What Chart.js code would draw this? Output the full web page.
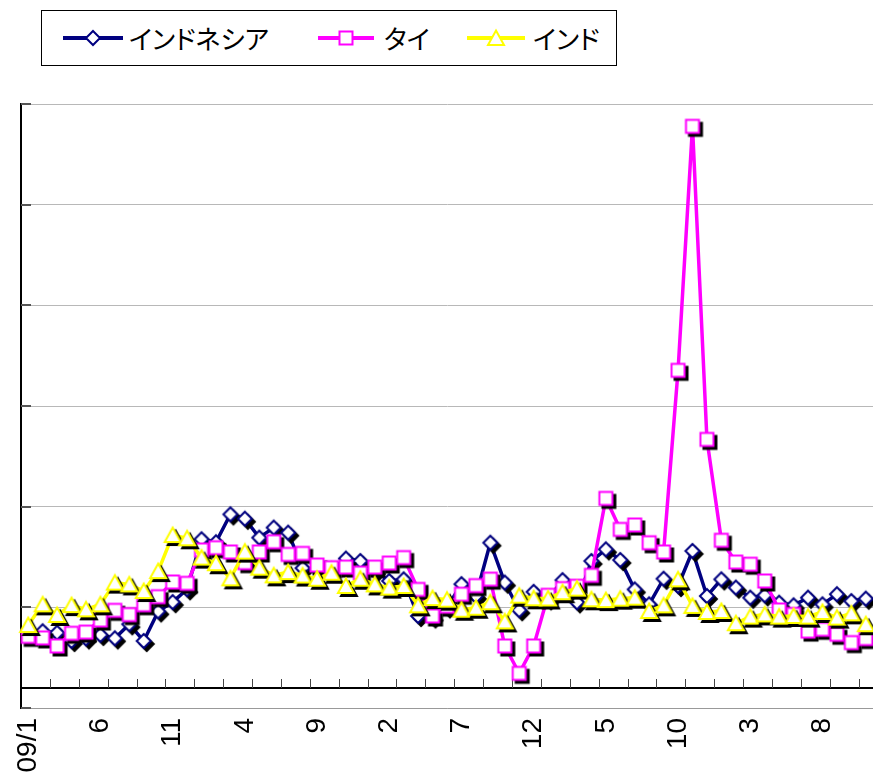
<!DOCTYPE html>
<html>
<head>
<meta charset="utf-8">
<script src="https://cdn.jsdelivr.net/npm/chart.js@4/dist/chart.umd.min.js"></script>
<style>
html,body{margin:0;padding:0;background:#fff;overflow:hidden;}
#wrap{position:relative;width:873px;height:784px;}
#c{position:absolute;left:0;top:0;}
#legend{position:absolute;left:41px;top:10px;width:574px;height:54px;border:1px solid #000;background:#fff;box-sizing:content-box;}
.lg-icon{position:absolute;}
.lg-text{position:absolute;top:14px;font-family:"Noto Sans CJK JP","Noto Sans",sans-serif;font-size:26px;line-height:26px;font-feature-settings:"palt";color:#000;white-space:nowrap;}
</style>
</head>
<body>
<div id="wrap">
<canvas id="c" width="873" height="784"></canvas>
<div id="legend"></div>
</div>
<script>
// ---- data ----
const years = ['09','10','11','12','13'];
const months = [];
for (let i = 0; i < 59; i++) {
  const m = (i % 12) + 1;
  months.push(m === 1 ? years[Math.floor(i / 12)] + '/' + m : String(m));
}
const seriesNames = ['インドネシア', 'タイ', 'インド'];
const indonesia = [-12.4,-11.9,-12.6,-16.7,-15.4,-13.7,-15.4,-8.4,-16.7,-2.0,
  2.6,9.0,33.8,32.3,46.2,44.0,34.6,39.6,37.1,19.5,
  19.0,19.0,24.2,23.0,18.0,13.1,13.9,-4.3,-5.0,0.0,
  11.5,5.6,32.1,12.3,-1.4,7.7,4.0,13.5,2.5,23.0,
  28.8,23.5,8.9,1.5,14.2,10.6,28.0,5.6,13.9,9.8,
  4.8,6.0,2.3,1.0,4.8,1.5,6.5,3.1,4.3];
const thai = [-14.4,-15.2,-19.2,-12.9,-12.3,-6.3,-1.5,-3.6,1.3,5.3,
  12.6,11.9,28.5,29.6,27.5,22.2,27.5,32.6,26.3,26.8,
  21.0,19.7,20.0,17.0,20.0,22.0,24.7,8.9,-4.3,0.6,
  6.5,10.8,14.0,-19.2,-32.8,-19.2,6.0,9.3,10.5,15.9,
  54.1,38.7,40.9,32.1,27.5,117.7,238.9,83.4,33.3,22.5,
  21.4,13.1,-1.3,-3.5,-11.8,-10.9,-13.4,-17.5,-15.5];
const india = [-8.8,1.5,-3.8,1.1,-1.0,1.5,12.3,11.4,8.1,18.0,
  35.9,34.3,24.7,21.9,14.4,27.7,19.7,15.9,17.5,15.8,
  14.2,17.2,10.6,14.2,11.4,9.8,10.6,1.0,4.6,3.8,
  -1.2,-0.2,2.5,-7.0,5.8,4.5,4.4,7.5,9.3,4.0,
  3.6,4.3,4.8,-1.8,1.0,13.9,0.7,-2.3,-1.8,-7.9,
  -4.6,-3.5,-4.6,-4.3,-4.6,-2.3,-5.1,-3.0,-8.4];
const yMin = -50, yMax = 250, yStep = 50;
const axisCross = -40;
const labelEvery = 5;
const tickEvery = 2;

// ---- styles ----
const colors = ['#000080', '#FF00FF', '#FFFF00'];
const shapes = ['diamond', 'square', 'triangle'];

function shapePath(ctx, shape, cx, cy) {
  ctx.beginPath();
  if (shape === 'diamond') {
    const r = 7;
    ctx.moveTo(cx, cy - r); ctx.lineTo(cx + r, cy); ctx.lineTo(cx, cy + r); ctx.lineTo(cx - r, cy);
  } else if (shape === 'square') {
    ctx.rect(cx - 6.5, cy - 6.5, 13, 13);
  } else {
    ctx.moveTo(cx, cy - 7.5); ctx.lineTo(cx + 8, cy + 7); ctx.lineTo(cx - 8, cy + 7);
  }
  ctx.closePath();
}
function makeMarker(shape, color, shadow) {
  const cv = document.createElement('canvas');
  cv.width = 30; cv.height = 30;
  const ctx = cv.getContext('2d');
  ctx.lineJoin = 'miter';
  if (shadow) {
    shapePath(ctx, shape, 18, 18);
    ctx.fillStyle = '#000'; ctx.strokeStyle = '#000'; ctx.lineWidth = 2;
    ctx.fill(); ctx.stroke();
  }
  shapePath(ctx, shape, 15, 15);
  ctx.fillStyle = '#fff'; ctx.fill();
  ctx.strokeStyle = color; ctx.lineWidth = 2; ctx.stroke();
  return cv;
}

const seriesData = [indonesia, thai, india];
const datasets = seriesData.map((d, i) => ({
  label: seriesNames[i],
  data: d,
  borderColor: colors[i],
  backgroundColor: '#fff',
  borderWidth: 3.5,
  pointStyle: makeMarker(shapes[i], colors[i], true),
  pointRadius: 7,
  pointHoverRadius: 7,
  tension: 0,
  order: 3 - i,
  clip: false
}));

const axisPlugin = {
  id: 'axisLines',
  beforeDatasetsDraw(chart) {
    const {ctx, chartArea: a, scales: {x, y}} = chart;
    const yAx = Math.round(y.getPixelForValue(axisCross));
    const w = x.getPixelForValue(1) - x.getPixelForValue(0);
    ctx.save();
    ctx.strokeStyle = '#000';
    ctx.lineWidth = 2;
    ctx.beginPath(); ctx.moveTo(a.left, yAx); ctx.lineTo(a.right, yAx); ctx.stroke();
    ctx.lineWidth = 1;
    ctx.strokeStyle = '#444';
    for (let k = tickEvery; k < months.length; k += tickEvery) {
      const px = Math.round(x.getPixelForValue(k) - w / 2) + 0.5;
      ctx.beginPath(); ctx.moveTo(px, yAx); ctx.lineTo(px, yAx - 9); ctx.stroke();
    }
    ctx.strokeStyle = '#555';
    ctx.lineWidth = 2;
    y.ticks.forEach(t => {
      const py = Math.round(y.getPixelForValue(t.value));
      ctx.beginPath(); ctx.moveTo(a.left, py); ctx.lineTo(a.left + 10, py); ctx.stroke();
    });
    ctx.restore();
  }
};

new Chart(document.getElementById('c'), {
  type: 'line',
  data: {labels: months, datasets},
  plugins: [axisPlugin],
  options: {
    responsive: false,
    animation: false,
    devicePixelRatio: 1,
    layout: {autoPadding: false, padding: {top: 104, left: 21, right: 0, bottom: 0}},
    plugins: {legend: {display: false}, tooltip: {enabled: false}},
    scales: {
      x: {
        type: 'category',
        offset: true,
        grid: {drawOnChartArea: false, drawTicks: false},
        border: {display: true, color: '#999', width: 1},
        ticks: {
          autoSkip: false, maxRotation: 90, minRotation: 90, padding: 10,
          color: '#000',
          font: {family: '"Liberation Sans", Arial, sans-serif', size: 28},
          callback: (v, i) => (i % labelEvery === 0 ? months[i] : '')
        },
        afterFit: s => { s.height = 76; s.paddingLeft = 0; s.paddingRight = 0; }
      },
      y: {
        min: yMin, max: yMax,
        ticks: {display: false, stepSize: yStep},
        grid: {color: '#b8b8b8', lineWidth: 1, drawTicks: false},
        border: {display: true, color: '#000', width: 2},
        afterFit: s => { s.width = 0; s.paddingTop = 0; s.paddingBottom = 0; }
      }
    }
  }
});

// ---- HTML legend ----
const lg = document.getElementById('legend');
const lgLine = [[21, 60], [276, 56], [425, 58]];
const lgText = [87, 342, 491];
seriesNames.forEach((name, i) => {
  const cv = document.createElement('canvas');
  const [lx, lw] = lgLine[i];
  cv.width = lw; cv.height = 24;
  cv.className = 'lg-icon';
  cv.style.left = lx + 'px'; cv.style.top = '15px';
  const ctx = cv.getContext('2d');
  ctx.strokeStyle = colors[i]; ctx.lineWidth = 4;
  ctx.beginPath(); ctx.moveTo(0, 12); ctx.lineTo(lw, 12); ctx.stroke();
  ctx.drawImage(makeMarker(shapes[i], colors[i], false), lw / 2 - 15, -3);
  lg.appendChild(cv);
  const sp = document.createElement('span');
  sp.className = 'lg-text';
  sp.style.left = lgText[i] + 'px';
  sp.textContent = name;
  lg.appendChild(sp);
});
</script>
</body>
</html>
